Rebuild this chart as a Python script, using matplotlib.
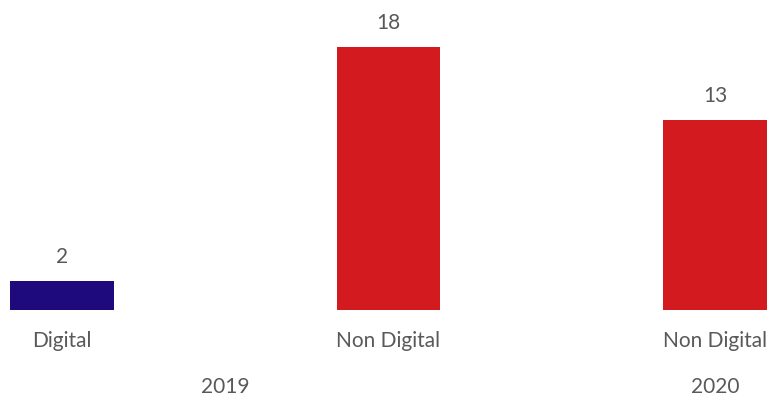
import matplotlib
matplotlib.use("Agg")
import matplotlib.pyplot as plt

categories = ["Digital", "Non Digital", "Non Digital"]
values = [2, 18, 13]
years = ["2019", "2020"]
year_positions = [0.5, 2]
colors = ["#1E0A7C", "#D21A1F"]
bar_colors = [colors[0], colors[1], colors[1]]

plt.rcParams["font.family"] = ["Lato", "DejaVu Sans"]
text_color = "#595959"

W, H, DPI = 771, 396, 100
fig = plt.figure(figsize=(W / DPI, H / DPI), dpi=DPI)
base = 86
ax = fig.add_axes([0, base / H, 1, (H - base) / H])

x = list(range(len(values)))
ax.bar(x, values, width=0.316, color=bar_colors)
ax.set_xlim(-0.19, 2.1715)
ax.set_ylim(0, 21.22)
ax.axis("off")

for xi, v in zip(x, values):
    ax.annotate(str(v), (xi, v), xytext=(0, 17), textcoords="offset points",
                ha="center", va="center", fontsize=15, color=text_color)

for xi, c in zip(x, categories):
    ax.annotate(c, (xi, 55), xycoords=("data", "figure pixels"),
                ha="center", va="center", fontsize=15, color=text_color)

for xp, y in zip(year_positions, years):
    ax.annotate(y, (xp, 9), xycoords=("data", "figure pixels"),
                ha="center", va="center", fontsize=15, color=text_color)

fig.savefig("out.png", dpi=DPI)
